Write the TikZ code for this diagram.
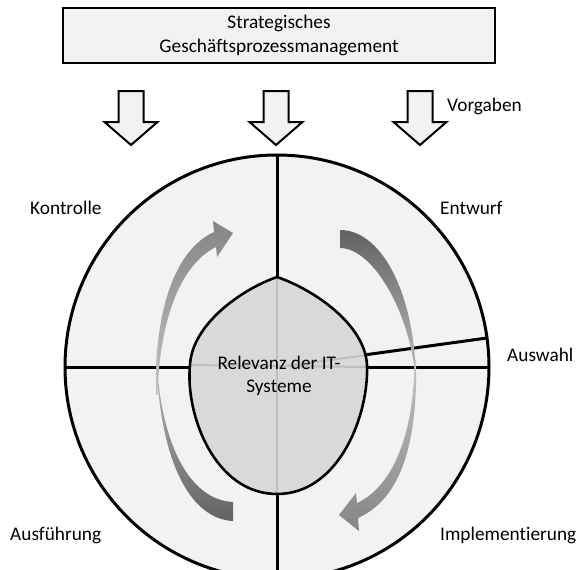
\documentclass[tikz,border=0pt]{standalone}
\usepackage{fontspec}
\setmainfont{Carlito}[Ligatures={NoCommon,NoRare}]
\definecolor{paper}{HTML}{F2F2F2}
\definecolor{core}{HTML}{D9D9D9}
\definecolor{coreline}{HTML}{BFBFBF}
\definecolor{darkflow}{HTML}{626262}
\definecolor{midflow}{HTML}{858585}
\definecolor{paleflow}{HTML}{C4C4C4}
\begin{document}
\begin{tikzpicture}[x=1pt,y=-1pt,
  txt/.style={font=\fontsize{19.3}{23.4}\selectfont, inner sep=0pt, text=black},
  downarrow/.style={draw=black, fill=paper, line width=2pt},
  ring/.style={draw=black, fill=paper, line width=3pt},
  divider/.style={draw=black, line width=3pt},
  coreshape/.style={draw=black, line width=2.6pt},
  guide/.style={draw=coreline, line width=2pt}]
  \useasboundingbox (0,0) rectangle (579,570);
  \clip (0,0) rectangle (579,570);

  % header box
  \node[txt, draw=black, fill=paper, line width=2pt, minimum width=432pt,
        minimum height=55pt, align=center] (head) at (279,35.5)
        {Strategisches\\Geschäftsprozessmanagement};

  % three block arrows below the header
  \foreach \cx/\nm in {131/da1, 276/da2, 420/da3}{
    \draw[downarrow] (\cx-12.5,91) -- (\cx+12.5,91) -- (\cx+12.5,122)
      -- (\cx+26.5,122) -- (\cx,145) coordinate (\nm) -- (\cx-26.5,122)
      -- (\cx-12.5,122) -- cycle;
  }
  \node[txt, anchor=base west] (vorg) at (447,111.5) {Vorgaben};

  % cycle disc and its dividers
  \coordinate (O) at (277,367);
  \path[ring] (O) circle[radius=212pt];
  \coordinate (top) at (277,155);
  \coordinate (bot) at (277,579);
  \coordinate (lft) at (65,367);
  \coordinate (rgt) at (489,367);
  \coordinate (sel) at (487,338);
  \draw[divider] (top) -- (bot);
  \draw[divider] (lft) -- (rgt);
  \draw[divider] (O) -- (sel);

  % core shape
  \coordinate (cN) at (277,277);
  \coordinate (cE) at (367,365);
  \coordinate (cS) at (277,494);
  \coordinate (cW) at (190,365);
  \fill[core] (cN) .. controls (315,290) and (365,325) .. (cE)
    .. controls (369,415) and (339,494) .. (cS)
    .. controls (215,494) and (185,415) .. (cW)
    .. controls (192,325) and (240,290) .. (cN) -- cycle;
  \draw[guide] (cN) -- (cS);
  \draw[guide] (cW) -- (367,367);
  \draw[guide] (O) -- (367,355);
  \draw[coreshape] (cN) .. controls (315,290) and (365,325) .. (cE)
    .. controls (369,415) and (339,494) .. (cS)
    .. controls (215,494) and (185,415) .. (cW)
    .. controls (192,325) and (240,290) .. (cN) -- cycle;

  \node[txt, align=center] (core) at (279,376)
    {Relevanz der IT-\\Systeme};

  % curved flow arrows
  \shade[top color=darkflow, bottom color=paleflow]
    (340,230) .. controls (384,230) and (417,300) .. (416,388)
    .. controls (414,320) and (375,248) .. (340,248) -- cycle;
  \shade[top color=paleflow, bottom color=midflow]
    (416,360) .. controls (418,450) and (398,500) .. (358,518)
    -- (359,531) -- (339,515) -- (356,493) -- (357,503)
    .. controls (390,488) and (414,440) .. (414.5,360) -- cycle;
  \shade[top color=paleflow, bottom color=darkflow]
    (233,521) .. controls (190,519) and (157,460) .. (156,345)
    .. controls (158,440) and (188,500) .. (233,502) -- cycle;
  \shade[top color=midflow, bottom color=paleflow]
    (156,395) .. controls (154,310) and (175,250) .. (214,232)
    -- (213,221) -- (233,233) -- (217,257) -- (216,247)
    .. controls (185,262) and (160,310) .. (157.5,395) -- cycle;

  % phase labels
  \node[txt, anchor=base west] (ctrl) at (30,214) {Kontrolle};
  \node[txt, anchor=base west] (draft) at (440,214) {Entwurf};
  \node[txt, anchor=base west] (choice) at (507,361) {Auswahl};
  \node[txt, anchor=base west] (exec) at (10,540) {Ausführung};
  \node[txt, anchor=base west] (impl) at (440,540) {Implementierung};
\end{tikzpicture}
\end{document}
